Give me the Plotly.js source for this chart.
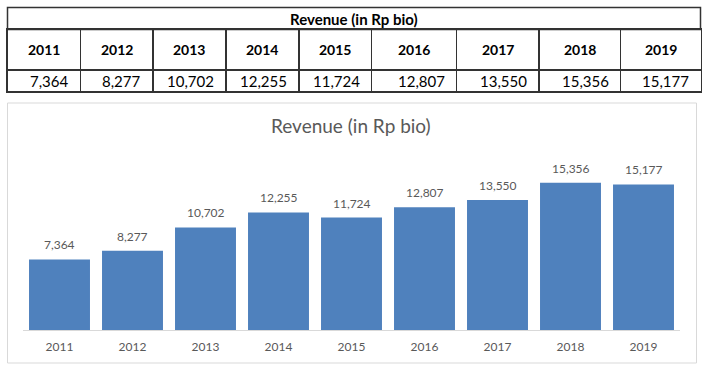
<!DOCTYPE html>
<html><head><meta charset="utf-8">
<script src="https://cdn.plot.ly/plotly-3.0.1.min.js"></script>
<style>html,body{margin:0;padding:0;background:#fff}#chart{width:709px;height:371px}</style>
</head><body><div id="chart"></div>
<script>
const title = "Revenue (in Rp bio)";
const years = ["2011","2012","2013","2014","2015","2016","2017","2018","2019"];
const revenue = [7364, 8277, 10702, 12255, 11724, 12807, 13550, 15356, 15177];
const colWidths = [73, 72.6, 72.7, 73, 72.7, 85, 82.3, 81.7, 80];

const W = 709, H = 371;
const fontFam = "Lato, 'Open Sans', sans-serif";
const fmt = v => v.toLocaleString('en-US');

// table geometry (pixels)
const tL = 7.5, tR = 701, tTop = 7.5, tHead = 29.5, tYear = 70, tBot = 91;
const bounds = [0];
colWidths.forEach(w => bounds.push(bounds[bounds.length - 1] + w));
const tableW = bounds[bounds.length - 1];
const centers = colWidths.map((w, i) => bounds[i] + w / 2);
const valueRowH = tBot - tYear, yearRowH = tYear - tHead;

const bars = {
  type: 'bar', x: years, y: revenue,
  marker: {color: '#4F81BD'},
  hoverinfo: 'skip'
};

const annotations = years.map((y, i) => ({
  x: i, y: revenue[i], xref: 'x', yref: 'y',
  text: fmt(revenue[i]), showarrow: false,
  yanchor: 'bottom', yshift: 5,
  font: {family: fontFam, size: 12, color: '#595959'}
}));
// chart title
annotations.push({
  xref: 'paper', yref: 'paper', x: 351/W, y: 1 - 126/H,
  text: title, showarrow: false, xanchor: 'center', yanchor: 'middle',
  font: {family: fontFam, size: 19, color: '#595959'}
});
// table title
annotations.push({
  xref: 'paper', yref: 'paper', x: (tL + tR) / 2 / W, y: 1 - (tTop + tHead) / 2 / H,
  text: '<b>' + title + '</b>', showarrow: false, xanchor: 'center', yanchor: 'middle',
  font: {family: fontFam, size: 15, color: '#000'}
});
// table cells: year headers and values
years.forEach((y, i) => {
  annotations.push({
    xref: 'x2', yref: 'y2', x: centers[i], y: valueRowH + yearRowH / 2,
    text: '<b>' + y + '</b>', showarrow: false, xanchor: 'center', yanchor: 'middle',
    font: {family: fontFam, size: 14, color: '#000'}
  });
  annotations.push({
    xref: 'x2', yref: 'y2', x: bounds[i + 1], y: valueRowH / 2, xshift: -10,
    text: fmt(revenue[i]), showarrow: false, xanchor: 'right', yanchor: 'middle',
    font: {family: fontFam, size: 15, color: '#000'}
  });
});

const gridStyle = {color: '#333', width: 1.5};

const layout = {
  width: W, height: H,
  margin: {l: 0, r: 0, t: 0, b: 0},
  paper_bgcolor: '#fff', plot_bgcolor: 'rgba(0,0,0,0)',
  showlegend: false,
  bargap: 0.165,
  xaxis: {
    domain: [23/W, 680/W], type: 'category', range: [-0.5, 8.5],
    showline: true, linecolor: '#d9d9d9', linewidth: 1,
    ticks: '', showgrid: false, zeroline: false,
    tickfont: {family: fontFam, size: 12, color: '#595959'},
    ticklabelstandoff: 6, fixedrange: true
  },
  yaxis: {
    domain: [41/H, 1 - 157.4/H], range: [0, 18000],
    visible: false, showgrid: false, zeroline: false, fixedrange: true
  },
  xaxis2: {
    domain: [tL/W, (tL + tableW)/W], range: [0, tableW], anchor: 'y2',
    tickmode: 'array', tickvals: bounds.slice(1, -1), showticklabels: false, ticks: '',
    showgrid: true, gridcolor: gridStyle.color, gridwidth: gridStyle.width,
    showline: true, mirror: true, linecolor: gridStyle.color, linewidth: gridStyle.width,
    zeroline: false, fixedrange: true
  },
  yaxis2: {
    domain: [1 - tBot/H, 1 - tHead/H], range: [0, tBot - tHead], anchor: 'x2',
    tickmode: 'array', tickvals: [valueRowH], showticklabels: false, ticks: '',
    showgrid: true, gridcolor: gridStyle.color, gridwidth: gridStyle.width,
    showline: true, mirror: true, linecolor: gridStyle.color, linewidth: gridStyle.width,
    zeroline: false, fixedrange: true
  },
  shapes: [
    {type: 'rect', xref: 'paper', yref: 'paper',
     x0: 7.5/W, x1: 696.5/W, y0: 1 - 363/H, y1: 1 - 103/H,
     line: {color: '#d9d9d9', width: 1}, fillcolor: 'rgba(0,0,0,0)', layer: 'below'},
    {type: 'rect', xref: 'paper', yref: 'paper',
     x0: tL/W, x1: (tL + tableW)/W, y0: 1 - tHead/H, y1: 1 - tTop/H,
     line: {color: gridStyle.color, width: gridStyle.width}, fillcolor: 'rgba(0,0,0,0)'}
  ],
  annotations: annotations
};

Plotly.newPlot('chart', [bars], layout, {displayModeBar: false, staticPlot: true});
</script></body></html>
